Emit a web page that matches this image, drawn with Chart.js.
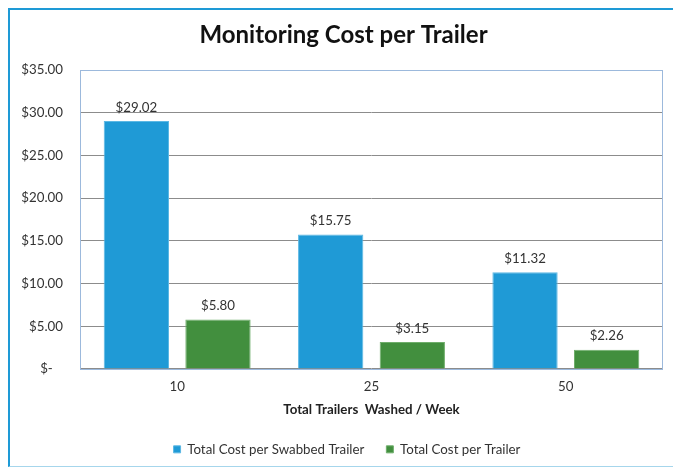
<!DOCTYPE html>
<html>
<head>
<meta charset="utf-8">
<script src="https://cdn.jsdelivr.net/npm/chart.js@4/dist/chart.umd.min.js"></script>
<style>
  html, body { margin: 0; padding: 0; background: #fff; overflow: hidden; }
  #wrap { position: relative; width: 673px; height: 470px; }
  #frame { position: absolute; left: 8px; top: 8px; width: 700px; height: 459px;
           border-top: 2px solid #1e9ad6; border-left: 2px solid #1e9ad6;
           border-bottom: 1px solid #a6d6ec; pointer-events: none; box-sizing: border-box; }
</style>
</head>
<body>
<div id="wrap">
  <canvas id="c" width="673" height="470"></canvas>
  <div id="frame"></div>
</div>
<script>
const chartTitle = 'Monitoring Cost per Trailer';
const xAxisTitle = 'Total Trailers  Washed / Week';
const categories = ['10', '25', '50'];
const seriesNames = ['Total Cost per Swabbed Trailer', 'Total Cost per Trailer'];
const swabbedCost = [29.02, 15.75, 11.32];
const trailerCost = [5.80, 3.15, 2.26];
const yTicks = [0, 5, 10, 15, 20, 25, 30, 35];

const FONT = 'Lato, "Open Sans", sans-serif';
const FS = 13.3;
const fmt = v => v === 0 ? '$-   ' : '$' + v.toFixed(2);

const frameAndLabels = {
  id: 'frameAndLabels',
  afterLayout(chart) {
    // Excel centres title and legend over the full chart object
    if (chart.titleBlock) { chart.titleBlock.left += 7; chart.titleBlock.right += 7; }
    if (chart.legend) { chart.legend.left += 10.5; chart.legend.right += 10.5; }
  },
  afterDatasetsDraw(chart) {
    const ctx = chart.ctx;
    const a = chart.chartArea;
    ctx.save();
    ctx.strokeStyle = '#9cb9dc';
    ctx.lineWidth = 1;
    ctx.strokeRect(Math.round(a.left) + 0.5, Math.round(a.top) + 0.5,
                   Math.round(a.right - a.left) - 1, Math.round(a.bottom - a.top));
    ctx.font = FS + 'px ' + FONT;
    ctx.fillStyle = '#333333';
    ctx.textAlign = 'center';
    ctx.textBaseline = 'bottom';
    chart.data.datasets.forEach((ds, i) => {
      const meta = chart.getDatasetMeta(i);
      meta.data.forEach((bar, j) => {
        ctx.fillText('$' + ds.data[j].toFixed(2), bar.x, bar.y - 7);
      });
    });
    ctx.restore();
  }
};

new Chart(document.getElementById('c'), {
  type: 'bar',
  data: {
    labels: categories,
    datasets: [
      { label: seriesNames[0], data: swabbedCost, backgroundColor: '#1f9ad6',
        borderColor: '#5cb8e4', borderWidth: 1,
        categoryPercentage: 0.84, barPercentage: 0.8 },
      { label: seriesNames[1], data: trailerCost, backgroundColor: '#428f3e',
        borderColor: '#6fae6b', borderWidth: 1,
        categoryPercentage: 0.84, barPercentage: 0.8 }
    ]
  },
  options: {
    responsive: false,
    animation: false,
    devicePixelRatio: 1,
    layout: { padding: { left: 10, right: 10, top: 10, bottom: 4 } },
    plugins: {
      title: {
        display: true, text: chartTitle, color: '#111111',
        font: { family: FONT, size: 24, weight: 'bold' },
        padding: { top: 11, bottom: 20.2 }
      },
      legend: {
        position: 'bottom',
        labels: {
          boxWidth: 7, boxHeight: 7, padding: 22, color: '#333333',
          font: { family: FONT, size: FS }
        }
      },
      tooltip: { enabled: false }
    },
    scales: {
      x: {
        grid: { display: false, drawTicks: false },
        border: { display: false },
        ticks: { color: '#333333', padding: 10.2, font: { family: FONT, size: FS } },
        title: { display: true, text: xAxisTitle, color: '#222222',
                 font: { family: FONT, size: FS, weight: 'bold' },
                 padding: { top: -3.6, bottom: 3 } }
      },
      y: {
        min: 0, max: 35,
        afterBuildTicks: s => { s.ticks = yTicks.map(v => ({ value: v })); },
        afterFit: s => { s.width = 70; },
        grid: { color: '#8c8c8c', drawTicks: false },
        border: { display: false },
        ticks: { color: '#333333', padding: 17, font: { family: FONT, size: FS },
                 callback: v => fmt(v) }
      }
    }
  },
  plugins: [frameAndLabels]
});
</script>
</body>
</html>
